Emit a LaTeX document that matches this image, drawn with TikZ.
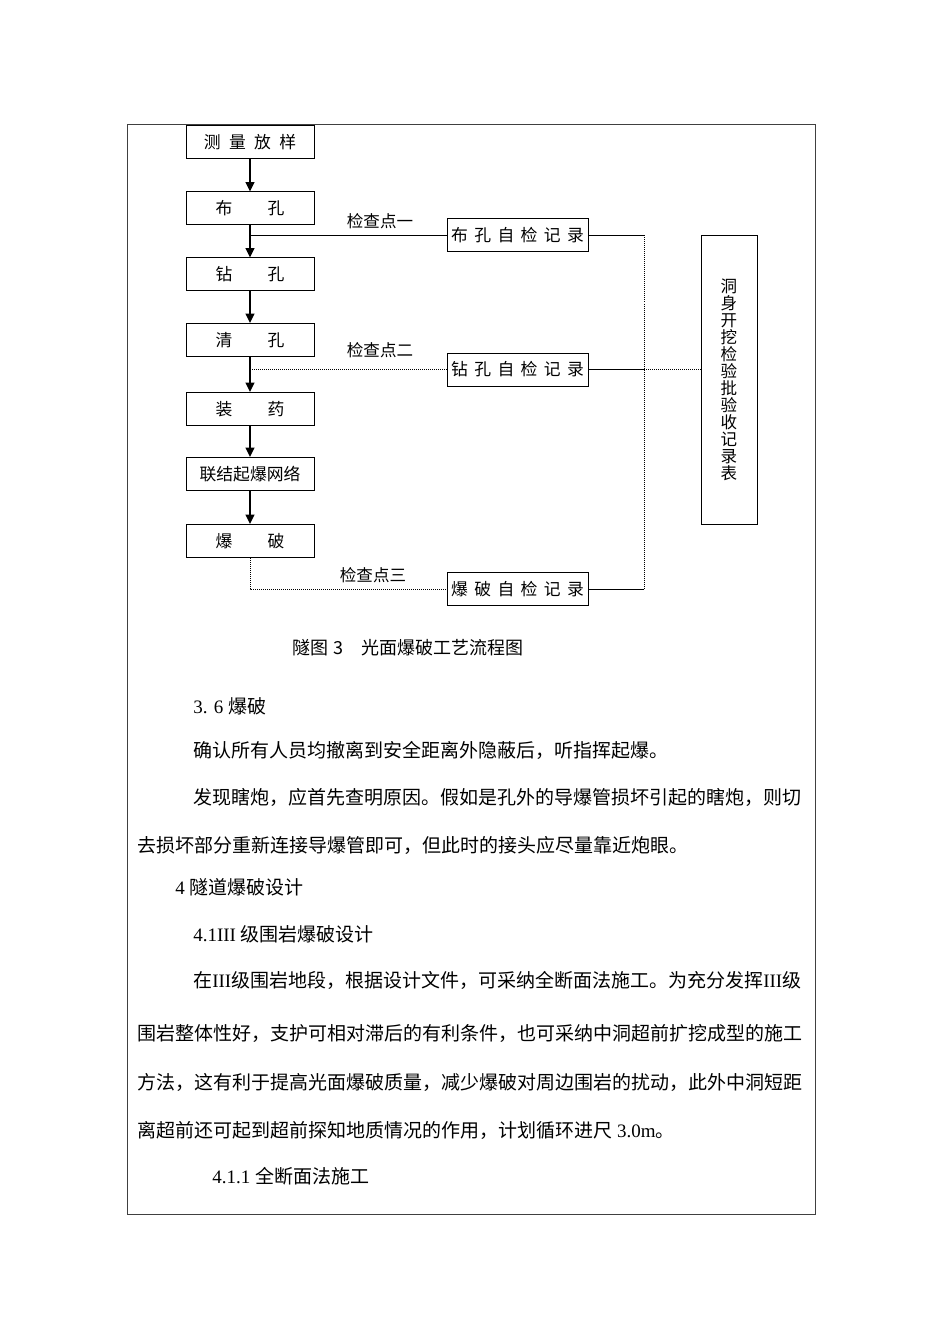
\documentclass[tikz,border=0pt]{standalone}
\usepackage{fontspec}
\setmainfont{Noto Sans CJK SC}
\newfontfamily\latin{Liberation Serif}
\usetikzlibrary{arrows.meta}
\newcommand{\ksp}{\hspace{0.38em}}
\tikzset{
  stepbox/.style={draw, line width=0.75pt, minimum width=96pt, minimum height=24.75pt, inner sep=0pt, font=\fontsize{12.6}{14}\selectfont},
  recordbox/.style={stepbox, minimum width=105.75pt},
  flow/.style={line width=1.5pt, -{Triangle[width=6.5pt,length=7pt]}},
  link/.style={line width=0.75pt},
  dotline/.style={line width=0.75pt, dash pattern=on 0.75pt off 0.75pt},
  check/.style={inner sep=0pt, font=\fontsize{12.4}{14}\selectfont},
  para/.style={anchor=west, inner sep=0pt, font=\fontsize{14.25}{17}\selectfont}
}
\begin{document}
\begin{tikzpicture}[x=0.75pt,y=-0.75pt]
\useasboundingbox (0,0) rectangle (950,1344);
\draw[black!75, line width=0.75pt] (127,125) rectangle (815,1214);

% process chain
\node[stepbox] (clfy) at (250,142) {测\hspace{0.5em}量\hspace{0.5em}放\hspace{0.5em}样};
\node[stepbox] (bk) at (250,208.5) {布\hspace{2.1em}孔};
\node[stepbox] (zk) at (250,274.5) {钻\hspace{2.1em}孔};
\node[stepbox] (qk) at (250,340) {清\hspace{2.1em}孔};
\node[stepbox] (zy) at (250,409) {装\hspace{2.1em}药};
\node[stepbox] (lj) at (250,474) {联结起爆网络};
\node[stepbox] (bp) at (250,541) {爆\hspace{2.1em}破};

\draw[flow] (clfy) -- (bk);
\draw[flow] (bk) -- (zk);
\draw[flow] (zk) -- (qk);
\draw[flow] (qk) -- (zy);
\draw[flow] (zy) -- (lj);
\draw[flow] (lj) -- (bp);

% self check records
\node[recordbox] (bkjl) at (517.5,235.5) {布\ksp 孔\ksp 自\ksp 检\ksp 记\ksp 录};
\node[recordbox] (zkjl) at (517.5,369.5) {钻\ksp 孔\ksp 自\ksp 检\ksp 记\ksp 录};
\node[recordbox] (bpjl) at (517.5,589) {爆\ksp 破\ksp 自\ksp 检\ksp 记\ksp 录};

\node[check] (jc1) at (380,221) {检查点一};
\node[check] (jc2) at (380,350) {检查点二};
\node[check] (jc3) at (373,575) {检查点三};

\draw[link] (bkjl.west) -- (bkjl.west -| bk.south);
\draw[dotline] (zkjl.west) -- (zkjl.west -| qk.south);
\draw[dotline] (bp.south) |- (bpjl.west);

% acceptance table
\node[draw, line width=0.75pt, minimum width=42pt, minimum height=216pt, inner sep=0pt, align=center,
  font=\fontsize{12.4}{12.75}\selectfont] (ysb) at (729,380)
  {洞\\身\\开\\挖\\检\\验\\批\\验\\收\\记\\录\\表};

\coordinate (bus) at (644,380);
\draw[link] (bkjl.east) -- (bkjl.east -| bus);
\draw[link] (zkjl.east) -- (zkjl.east -| bus);
\draw[link] (bpjl.east) -- (bpjl.east -| bus);
\draw[dotline] (bkjl.east -| bus) -- (bpjl.east -| bus);
\draw[dotline] (zkjl.east -| bus) -- (zkjl.east -| ysb.west);

\node[font=\fontsize{13.5}{16}\selectfont, inner sep=0pt] (cap) at (408,648) {隧图 3\quad 光面爆破工艺流程图};

% text below the chart
\node[para] (p1) at (193,706) {{\latin 3. 6 }爆破};
\node[para] (p2) at (193,750) {确认所有人员均撤离到安全距离外隐蔽后，听指挥起爆。};
\node[para] (p3) at (193,797) {发现瞎炮，应首先查明原因。假如是孔外的导爆管损坏引起的瞎炮，则切};
\node[para] (p4) at (137,845) {去损坏部分重新连接导爆管即可，但此时的接头应尽量靠近炮眼。};
\node[para] (p5) at (175,887) {{\latin 4 }隧道爆破设计};
\node[para] (p6) at (193,934) {{\latin 4.1III }级围岩爆破设计};
\node[para] (p7) at (193,980) {在{\latin III}级围岩地段，根据设计文件，可采纳全断面法施工。为充分发挥{\latin III}级};
\node[para] (p8) at (137,1033) {围岩整体性好，支护可相对滞后的有利条件，也可采纳中洞超前扩挖成型的施工};
\node[para] (p9) at (137,1082) {方法，这有利于提高光面爆破质量，减少爆破对周边围岩的扰动，此外中洞短距};
\node[para] (p10) at (137,1130) {离超前还可起到超前探知地质情况的作用，计划循环进尺{\latin\ 3.0m}。};
\node[para] (p11) at (212,1176) {{\latin 4.1.1 }全断面法施工};
\end{tikzpicture}
\end{document}
